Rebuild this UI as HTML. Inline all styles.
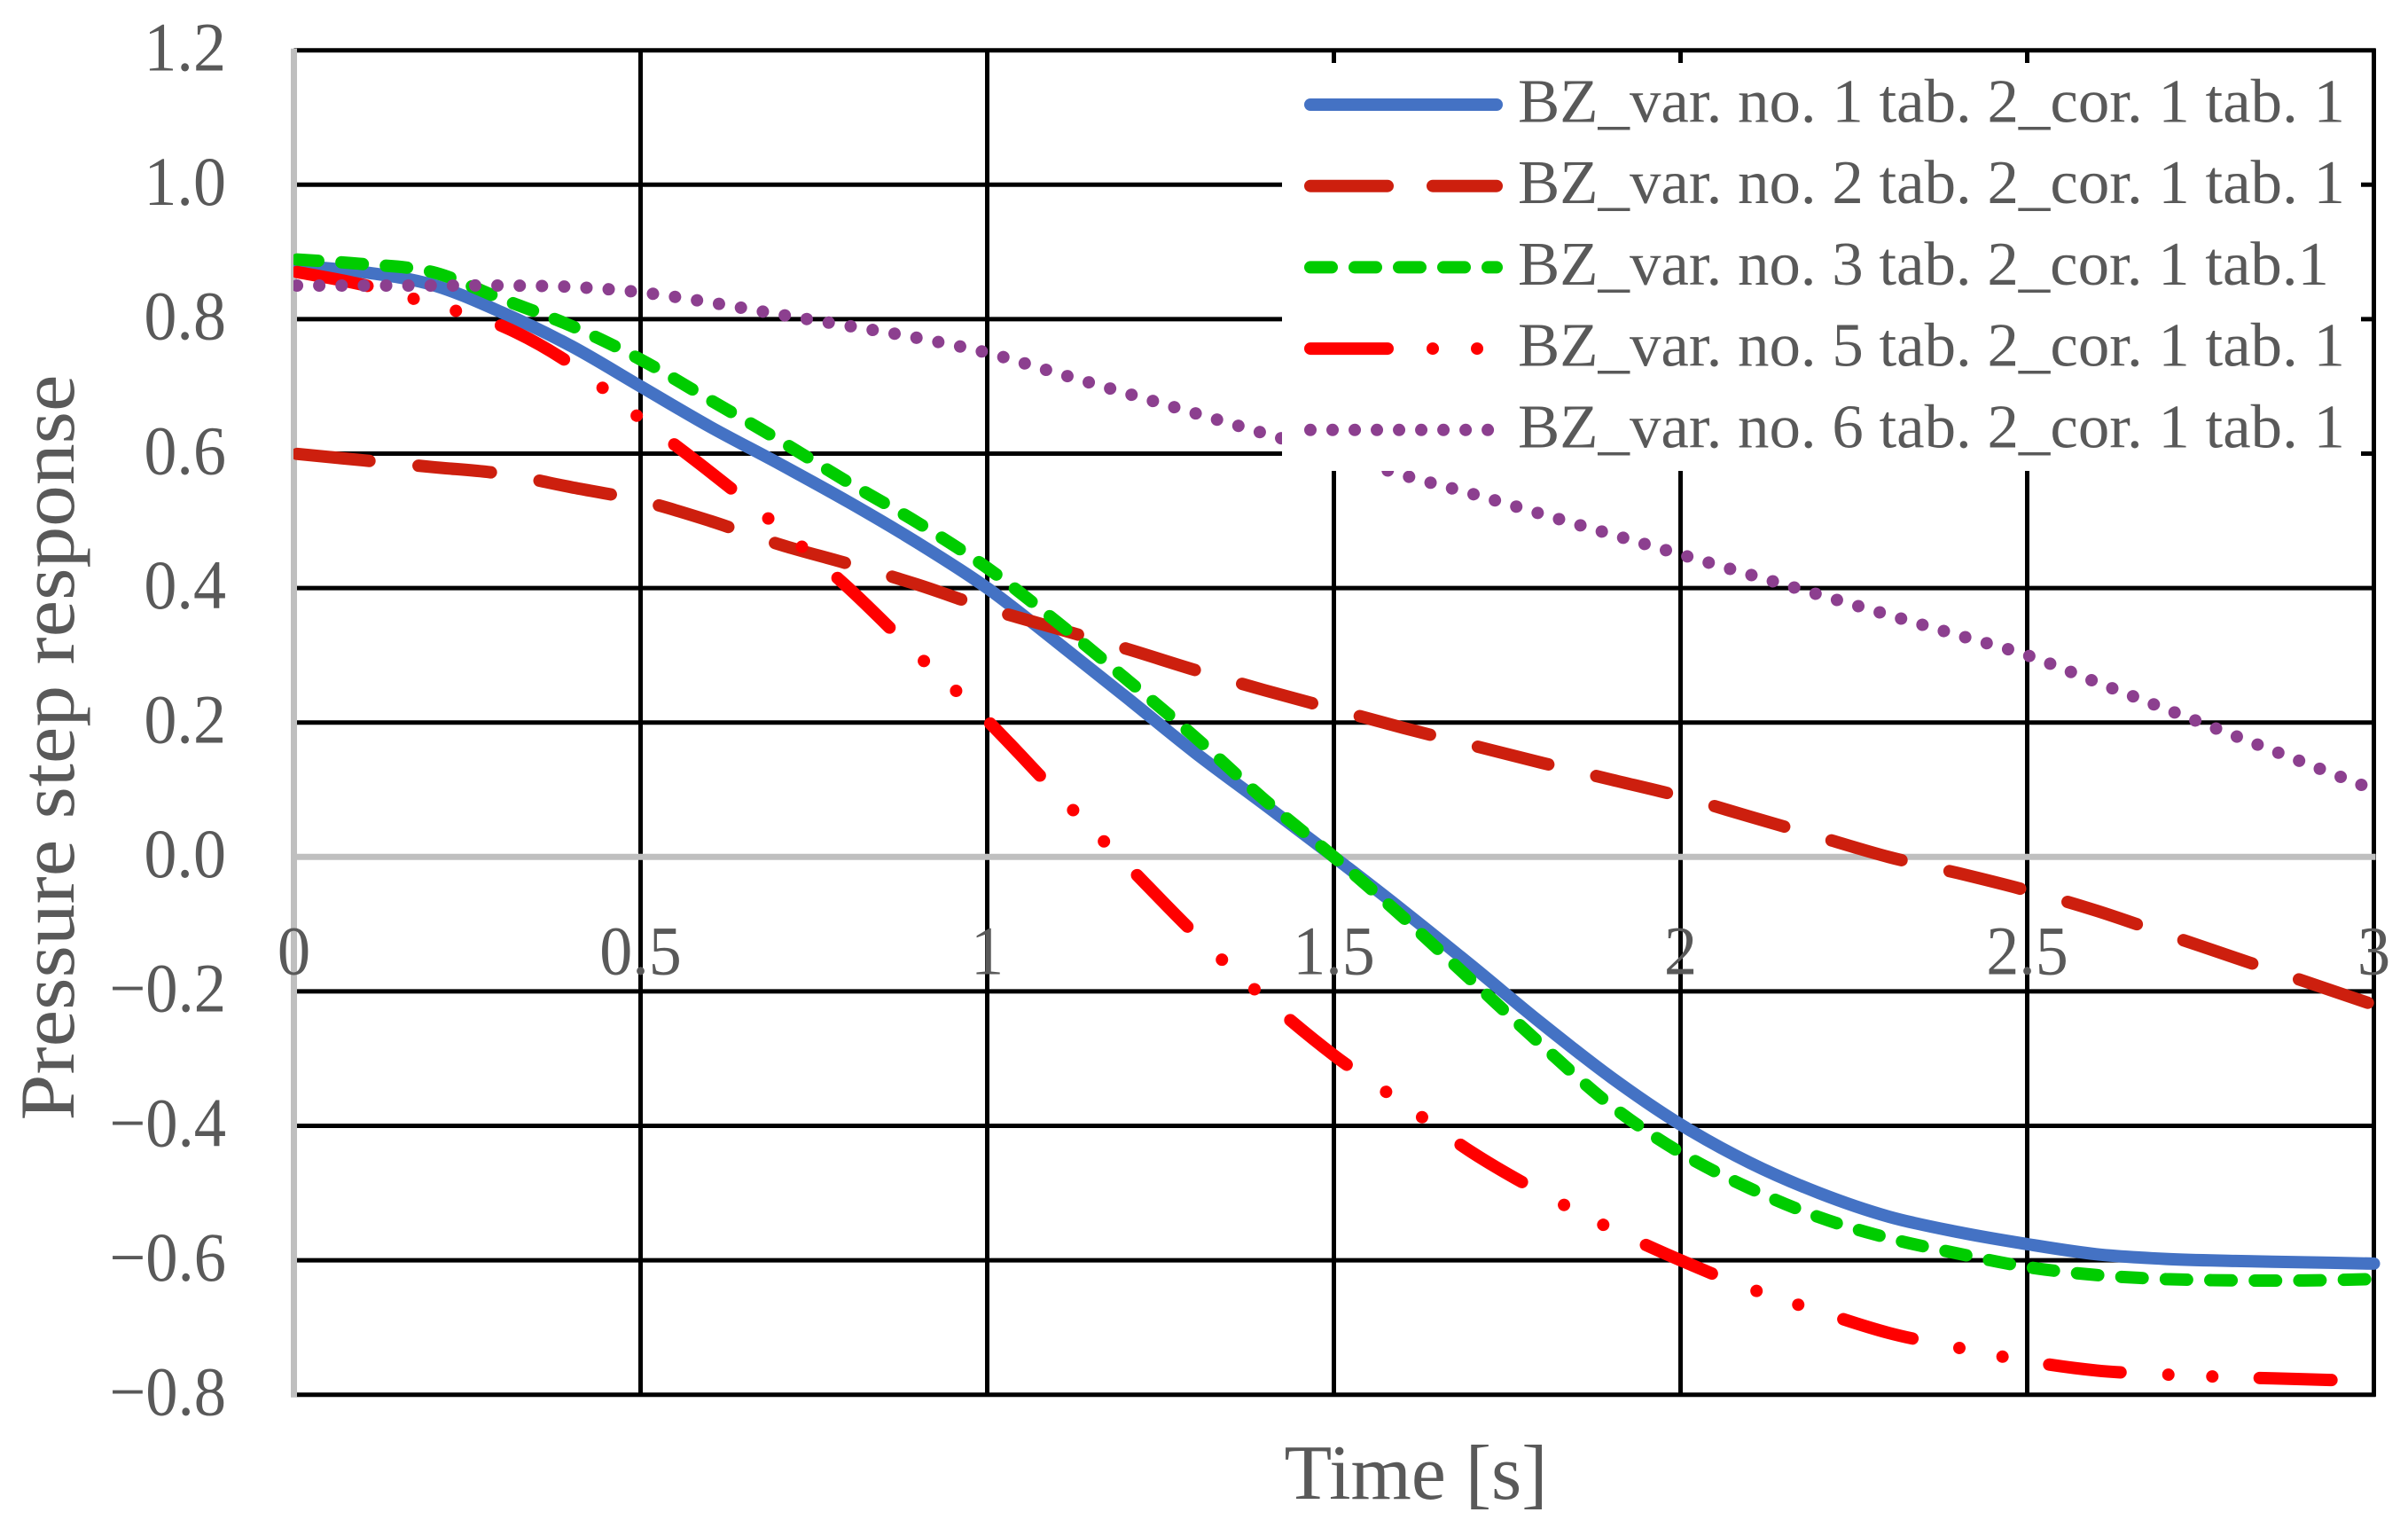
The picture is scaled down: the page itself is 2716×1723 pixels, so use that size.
<!DOCTYPE html>
<html lang="en">
<head>
<meta charset="utf-8">
<title>Pressure step response</title>
<style>
html,body{margin:0;padding:0;background:#fff;}
svg{display:block;}
text{font-family:"Liberation Serif",serif;fill:#595959;}
</style>
</head>
<body>
<svg id="chart" xmlns="http://www.w3.org/2000/svg" width="2716" height="1723" viewBox="0 0 2716 1723">
  <defs>
    <clipPath id="plot-clip"><rect x="331" y="0" width="2385" height="1723"/></clipPath>
  </defs>
  <rect x="0" y="0" width="2716" height="1723" fill="#ffffff"/>
  <g id="grid"></g>
  <g id="axes"></g>
  <g id="ticks"></g>
  <g id="series" clip-path="url(#plot-clip)"></g>
  <g id="legend"></g>
  <text x="1597" y="1690" text-anchor="middle" font-size="88" textLength="297" lengthAdjust="spacingAndGlyphs">Time [s]</text>
  <text transform="translate(83,843) rotate(-90)" text-anchor="middle" font-size="88" textLength="841" lengthAdjust="spacingAndGlyphs">Pressure step response</text>
</svg>
<script>
const times = [0,0.1,0.2,0.3,0.4,0.5,0.6,0.7,0.8,0.9,1.0,1.1,1.2,1.3,1.4,1.5,1.6,1.7,1.8,1.9,2.0,2.1,2.2,2.3,2.4,2.5,2.6,2.7,2.8,2.9,3.0];
const var1Values = [0.88,0.87,0.851,0.81,0.76,0.70,0.64,0.585,0.528,0.467,0.40,0.32,0.238,0.155,0.078,0,-0.08,-0.163,-0.248,-0.328,-0.398,-0.455,-0.50,-0.535,-0.558,-0.576,-0.591,-0.598,-0.601,-0.603,-0.605];
const var2Values = [0.60,0.59,0.58,0.57,0.55,0.53,0.50,0.465,0.436,0.405,0.37,0.34,0.31,0.278,0.248,0.22,0.192,0.166,0.14,0.115,0.09,0.06,0.03,0,-0.024,-0.05,-0.08,-0.115,-0.15,-0.185,-0.22];
const var3Values = [0.889,0.882,0.87,0.83,0.79,0.74,0.68,0.62,0.557,0.497,0.43,0.35,0.265,0.178,0.085,0,-0.09,-0.185,-0.28,-0.37,-0.44,-0.493,-0.536,-0.567,-0.59,-0.61,-0.622,-0.628,-0.63,-0.63,-0.628];
const var5Values = [0.871,0.851,0.822,0.79,0.733,0.652,0.573,0.49,0.40,0.30,0.203,0.095,-0.01,-0.115,-0.21,-0.295,-0.367,-0.44,-0.50,-0.553,-0.60,-0.642,-0.676,-0.708,-0.73,-0.75,-0.764,-0.77,-0.774,-0.777,-0.78];
const var6Values = [0.85,0.85,0.85,0.85,0.848,0.84,0.825,0.807,0.79,0.772,0.75,0.72,0.69,0.66,0.63,0.60,0.568,0.54,0.51,0.48,0.45,0.42,0.39,0.36,0.33,0.30,0.26,0.22,0.18,0.14,0.10];
const xTickLabels = ["0","0.5","1","1.5","2","2.5","3"];
const xTickValues = [0,0.5,1,1.5,2,2.5,3];
const yTickLabels = ["1.2","1.0","0.8","0.6","0.4","0.2","0.0","\u22120.2","\u22120.4","\u22120.6","\u22120.8"];
const yTickValues = [1.2,1.0,0.8,0.6,0.4,0.2,0,-0.2,-0.4,-0.6,-0.8];
const legendLabels = ["BZ_var. no. 1 tab. 2_cor. 1 tab. 1","BZ_var. no. 2 tab. 2_cor. 1 tab. 1","BZ_var. no. 3 tab. 2_cor. 1 tab.1","BZ_var. no. 5 tab. 2_cor. 1 tab. 1","BZ_var. no. 6 tab. 2_cor. 1 tab. 1"];

const NS = 'http://www.w3.org/2000/svg';
function xScale(t){ return 331.5 + 782 * t / 1; }
function yScale(v){ return 56.7 + (1.2 - v) * 758; }

function make(tag, attrs, parent){
  const el = document.createElementNS(NS, tag);
  for (const k in attrs) el.setAttribute(k, attrs[k]);
  parent.appendChild(el);
  return el;
}

function smoothPath(xs, ys){
  const p = xs.map((x,i)=>[xScale(x), yScale(ys[i])]);
  let d = 'M' + p[0][0].toFixed(2) + ' ' + p[0][1].toFixed(2);
  for (let i = 0; i < p.length - 1; i++){
    const p0 = p[Math.max(i-1,0)], p1 = p[i], p2 = p[i+1], p3 = p[Math.min(i+2,p.length-1)];
    const c1x = p1[0] + (p2[0]-p0[0])/6, c1y = p1[1] + (p2[1]-p0[1])/6;
    const c2x = p2[0] - (p3[0]-p1[0])/6, c2y = p2[1] - (p3[1]-p1[1])/6;
    d += 'C' + c1x.toFixed(2) + ' ' + c1y.toFixed(2) + ' ' + c2x.toFixed(2) + ' ' + c2y.toFixed(2) + ' ' + p2[0].toFixed(2) + ' ' + p2[1].toFixed(2);
  }
  return d;
}

function labelWidth(s){
  let w = 0;
  for (const c of s) w += c === '.' ? 18 : (c === '\u2212' ? 39 : 37.3);
  return w;
}

const gridG = document.getElementById('grid');
const axesG = document.getElementById('axes');
const ticksG = document.getElementById('ticks');
const seriesG = document.getElementById('series');
const legendG = document.getElementById('legend');
const xLeft = xScale(0), xRight = xScale(3), yTop = yScale(1.2), yBottom = yScale(-0.8);

yTickValues.forEach(function(v, i){
  if (v === 0) return;
  const line = make('line', {x1:xLeft, x2:xRight+2, y1:yScale(v), y2:yScale(v), stroke:'#000000', 'stroke-width':5}, gridG);
  
  
});
xTickValues.forEach(function(t, i){
  if (t === 0) return;
  const line = make('line', {x1:xScale(t), x2:xScale(t), y1:yTop-2, y2:yBottom+2, stroke:'#000000', 'stroke-width':5}, gridG);
  
  
});

const yAxisLine = make('line', {x1:xLeft, x2:xLeft, y1:yTop-2, y2:yBottom+3, stroke:'#bfbfbf', 'stroke-width':7}, axesG);


const xAxisLine = make('line', {x1:xLeft, x2:xRight+2, y1:yScale(0), y2:yScale(0), stroke:'#bfbfbf', 'stroke-width':7}, axesG);



yTickLabels.forEach(function(label, i){
  const t = make('text', {x:255, y:yScale(yTickValues[i])+22.8, 'text-anchor':'end', 'font-size':78, textLength:labelWidth(label), lengthAdjust:'spacingAndGlyphs'}, ticksG);
  t.textContent = label;
  
  
});
xTickLabels.forEach(function(label, i){
  const t = make('text', {x:xScale(xTickValues[i]), y:1098.5, 'text-anchor':'middle', 'font-size':78, textLength:labelWidth(label), lengthAdjust:'spacingAndGlyphs'}, ticksG);
  t.textContent = label;
  
  
});

const seriesStyles = [
  {color:'#4472c4', dash:'none'},
  {color:'#cd1f0e', dash:'82 55.6'},
  {color:'#00cc00', dash:'24 26.2'},
  {color:'#ff0000', dash:'81 54 0.01 49.6 0.01 53.38'},
  {color:'#8c3f8f', dash:'0.01 25.1'}
];
const seriesValues = [var1Values, var2Values, var3Values, var5Values, var6Values];

seriesValues.forEach(function(vals, i){
  const path = make('path', {d:smoothPath(times, vals), fill:'none', stroke:seriesStyles[i].color, 'stroke-width':14, 'stroke-linecap':'round', 'stroke-linejoin':'round', 'stroke-dasharray':seriesStyles[i].dash, 'stroke-dashoffset':-3.6}, seriesG);
  
  
});

const legendBox = make('rect', {x:1446, y:71, width:1217, height:460, fill:'#ffffff'}, legendG);



const legendLegendDash = ['none','87 51','24 26','87 51 0.01 50 0.01 48','0.01 25'];
legendLabels.forEach(function(label, i){
  const cy = 118 + i * 91.7;
  const swatch = make('line', {x1:1478, x2:1688, y1:cy, y2:cy, stroke:seriesStyles[i].color, 'stroke-width':14, 'stroke-linecap':'round', 'stroke-dasharray':legendLegendDash[i]}, legendG);
  
  
  const t = make('text', {x:1712, y:cy+19.5, 'font-size':70, textLength:(i === 2 ? 915 : 933), lengthAdjust:'spacingAndGlyphs'}, legendG);
  t.textContent = label;
  
  
});
</script>
</body>
</html>
